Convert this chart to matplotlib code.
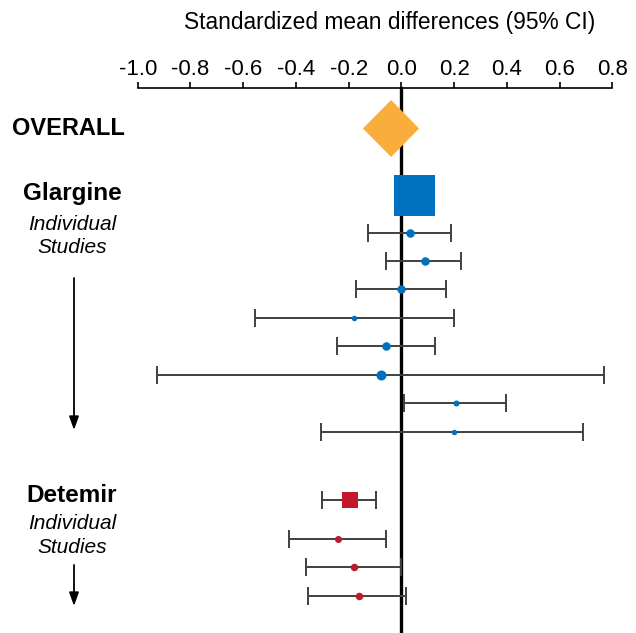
import numpy as np
import matplotlib
matplotlib.use("Agg")
from matplotlib import pyplot as plt
from matplotlib.patches import Polygon

plt.rcParams['font.family'] = ['Liberation Sans', 'DejaVu Sans']

# --- data (standardized mean differences) ---
overall_est, overall_lo, overall_hi = -0.039, -0.146, 0.067
glargine_pooled = 0.046
glargine_est = [0.032, 0.088, -0.003, -0.178, -0.058, -0.078, 0.208, 0.198]
glargine_lo = [-0.128, -0.060, -0.172, -0.555, -0.246, -0.928, 0.011, -0.306]
glargine_hi = [0.188, 0.226, 0.169, 0.198, 0.128, 0.768, 0.395, 0.689]
detemir_pooled, detemir_pooled_lo, detemir_pooled_hi = -0.196, -0.302, -0.098
detemir_est = [-0.242, -0.180, -0.162]
detemir_lo = [-0.428, -0.363, -0.355]
detemir_hi = [-0.057, 0.000, 0.019]
ticks = [-1.0, -0.8, -0.6, -0.4, -0.2, 0.0, 0.2, 0.4, 0.6, 0.8]

# --- layout (rows in pixels from top) ---
y_axis = 88
y_overall = 128.5
y_glar_pool = 195
y_glar = [233, 261, 289, 318, 346, 375, 403, 432]
y_det_pool = 499.5
y_det = [539, 567, 596]
glar_sizes = [8.5, 8.5, 8.5, 5.5, 8.5, 10, 6, 5.5]  # marker diameters in px
det_sizes = [7, 7.5, 7.5]

ORANGE = '#F9AE3B'
BLUE = '#0070C0'
RED = '#C0192C'
BAR = '#404040'

W, H = 636, 633
fig = plt.figure(figsize=(W / 100, H / 100), dpi=100)
ax = fig.add_axes([0, 0, 1, 1])
px_unit = 263.7
x0 = 137.7
ax.set_xlim(-1.0 - x0 / px_unit, -1.0 + (W - x0) / px_unit)
ax.set_ylim(H, 0)
for s in ['left', 'right', 'bottom']:
    ax.spines[s].set_visible(False)
ax.yaxis.set_visible(False)


def px_x(p):
    return -1.0 + (p - x0) / px_unit


# top axis
ax.xaxis.tick_top()
ax.spines['top'].set_position(('data', y_axis))
ax.spines['top'].set_bounds(ticks[0], ticks[-1])
ax.spines['top'].set_linewidth(1.2)
ax.set_xticks(ticks)
ax.set_xticklabels(['%.1f' % t for t in ticks])
ax.tick_params(axis='x', direction='out', length=4, width=1.2, labelsize=16, pad=2)
ax.text(px_x(390), 22, 'Standardized mean differences (95% CI)', fontsize=16.4,
        ha='center', va='center')

# zero line
ax.plot([0, 0], [y_axis, H], color='black', lw=2.4, zorder=2)

pt = 0.72  # px -> points
ebar = dict(fmt='none', ecolor=BAR, elinewidth=1.4, capsize=6.5, capthick=1.4, zorder=3)

# overall diamond
half_h = 28.5
ax.add_patch(Polygon([[overall_lo, y_overall], [overall_est, y_overall - half_h],
                      [overall_hi, y_overall], [overall_est, y_overall + half_h]],
                     closed=True, facecolor=ORANGE, edgecolor='none', zorder=3))

# glargine
ax.plot([glargine_pooled], [y_glar_pool], 's', color=BLUE, markersize=41 * pt,
        markeredgewidth=0, zorder=3)
for e, lo, hi, y, s in zip(glargine_est, glargine_lo, glargine_hi, y_glar, glar_sizes):
    ax.errorbar([e], [y], xerr=[[e - lo], [hi - e]], **ebar)
    ax.plot([e], [y], 'o', color=BLUE, markersize=s * pt, markeredgewidth=0, zorder=4)

# detemir
ax.errorbar([detemir_pooled], [y_det_pool],
            xerr=[[detemir_pooled - detemir_pooled_lo], [detemir_pooled_hi - detemir_pooled]],
            **ebar)
ax.plot([detemir_pooled], [y_det_pool], 's', color=RED, markersize=16 * pt,
        markeredgewidth=0, zorder=4)
for e, lo, hi, y, s in zip(detemir_est, detemir_lo, detemir_hi, y_det, det_sizes):
    ax.errorbar([e], [y], xerr=[[e - lo], [hi - e]], **ebar)
    ax.plot([e], [y], 'o', color=RED, markersize=s * pt, markeredgewidth=0, zorder=4)

# left labels
lx = px_x(72)
ax.text(px_x(68.5), 135, 'OVERALL', fontsize=17, fontweight='bold', ha='center', va='baseline')
ax.text(lx, 200, 'Glargine', fontsize=17.5, fontweight='bold', ha='center', va='baseline')
ax.text(lx, 230, 'Individual', fontsize=15, style='italic', ha='center', va='baseline')
ax.text(lx, 253, 'Studies', fontsize=15, style='italic', ha='center', va='baseline')
ax.text(lx, 502, 'Detemir', fontsize=17.5, fontweight='bold', ha='center', va='baseline')
ax.text(lx, 529, 'Individual', fontsize=15, style='italic', ha='center', va='baseline')
ax.text(lx, 553, 'Studies', fontsize=15, style='italic', ha='center', va='baseline')

arrow = dict(arrowstyle='-|>,head_length=0.5,head_width=0.18', color='black',
             lw=1.3, mutation_scale=16, shrinkA=0, shrinkB=0)
ax.annotate('', xy=(px_x(74), 430), xytext=(px_x(74), 278), arrowprops=arrow)
ax.annotate('', xy=(px_x(74), 606), xytext=(px_x(74), 565), arrowprops=arrow)

fig.savefig('out.png', dpi=100)
